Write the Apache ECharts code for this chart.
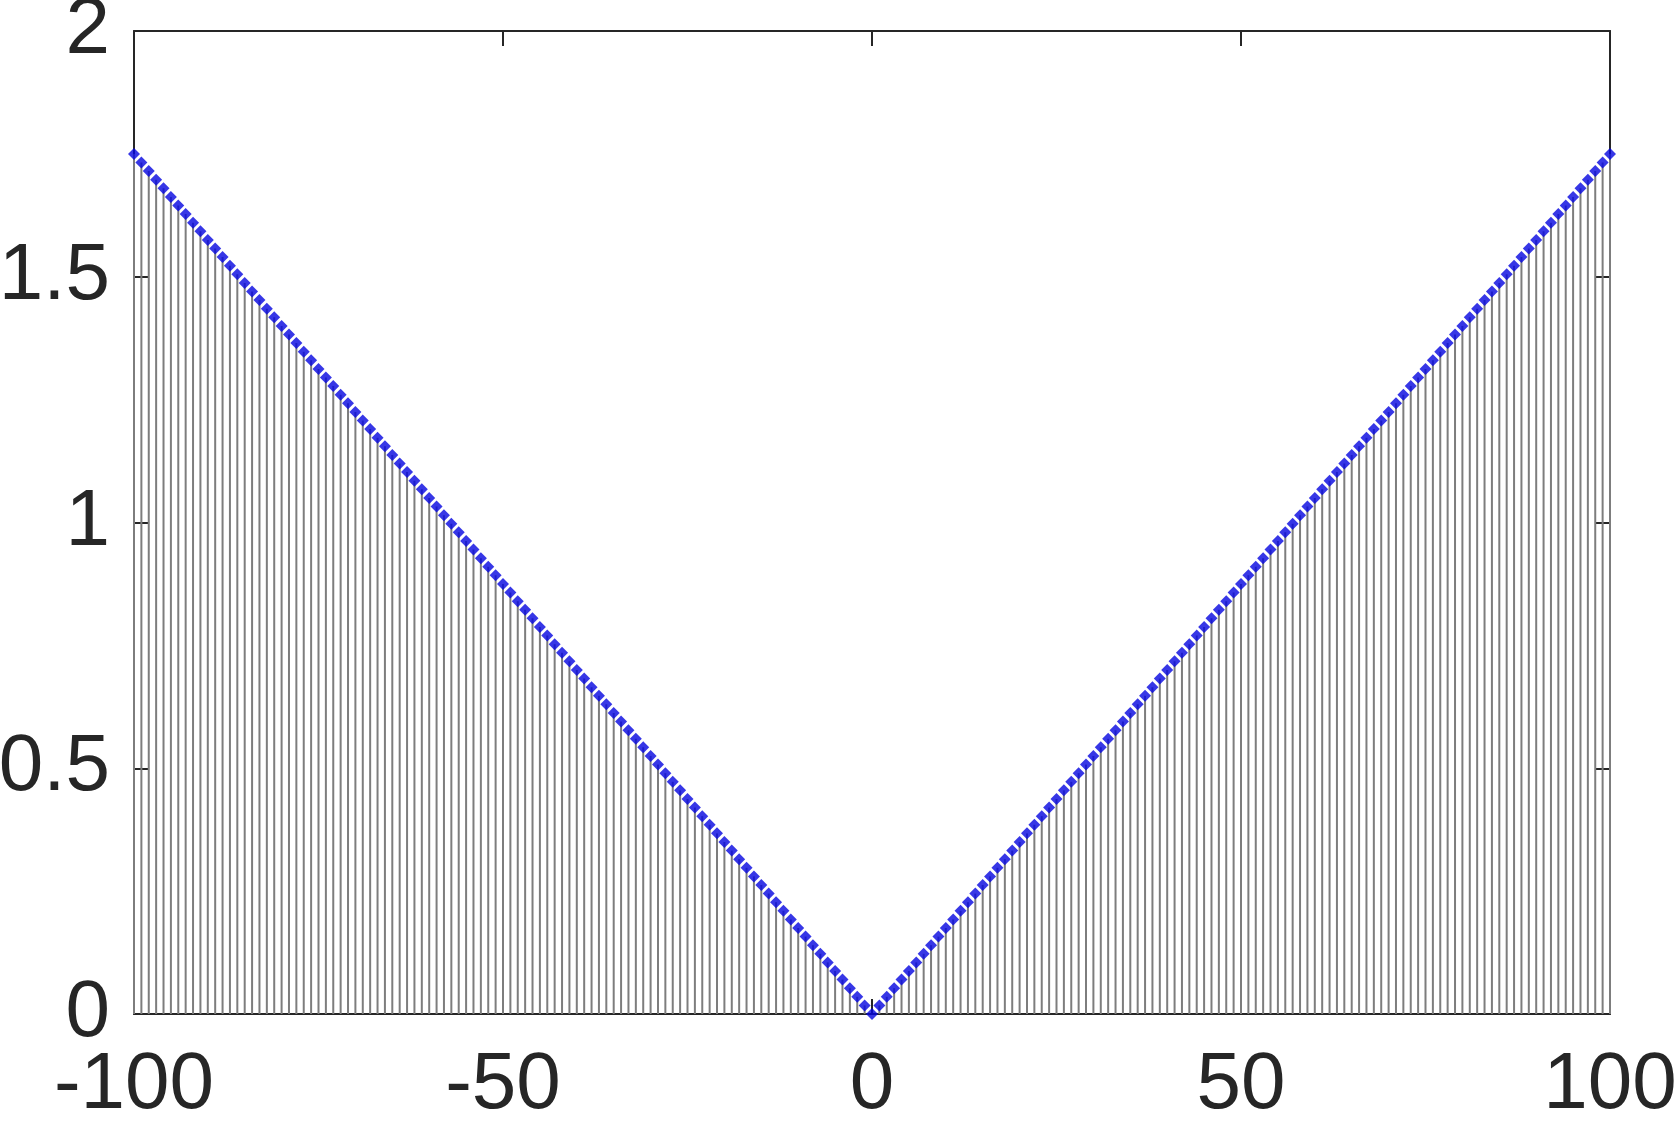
<!DOCTYPE html>
<html>
<head>
<meta charset="utf-8">
<script src="https://cdn.jsdelivr.net/npm/echarts@6/dist/echarts.min.js"></script>
<style>
html, body { margin: 0; padding: 0; background: #fff; }
#main { width: 1680px; height: 1128px; }
</style>
</head>
<body>
<div id="main"></div>
<script>
// stem positions (x) and heights
var xs = [
  -100,-99,-98,-97,-96,-95,-94,-93,-92,-91,-90,-89,-88,-87,-86,-85,-84,-83,-82,-81,
  -80,-79,-78,-77,-76,-75,-74,-73,-72,-71,-70,-69,-68,-67,-66,-65,-64,-63,-62,-61,
  -60,-59,-58,-57,-56,-55,-54,-53,-52,-51,-50,-49,-48,-47,-46,-45,-44,-43,-42,-41,
  -40,-39,-38,-37,-36,-35,-34,-33,-32,-31,-30,-29,-28,-27,-26,-25,-24,-23,-22,-21,
  -20,-19,-18,-17,-16,-15,-14,-13,-12,-11,-10,-9,-8,-7,-6,-5,-4,-3,-2,-1,
  0,
  1,2,3,4,5,6,7,8,9,10,11,12,13,14,15,16,17,18,19,20,
  21,22,23,24,25,26,27,28,29,30,31,32,33,34,35,36,37,38,39,40,
  41,42,43,44,45,46,47,48,49,50,51,52,53,54,55,56,57,58,59,60,
  61,62,63,64,65,66,67,68,69,70,71,72,73,74,75,76,77,78,79,80,
  81,82,83,84,85,86,87,88,89,90,91,92,93,94,95,96,97,98,99,100
];
var ys = [
  1.75,1.7325,1.715,1.6975,1.68,1.6625,1.645,1.6275,1.61,1.5925,
  1.575,1.5575,1.54,1.5225,1.505,1.4875,1.47,1.4525,1.435,1.4175,
  1.4,1.3825,1.365,1.3475,1.33,1.3125,1.295,1.2775,1.26,1.2425,
  1.225,1.2075,1.19,1.1725,1.155,1.1375,1.12,1.1025,1.085,1.0675,
  1.05,1.0325,1.015,0.9975,0.98,0.9625,0.945,0.9275,0.91,0.8925,
  0.875,0.8575,0.84,0.8225,0.805,0.7875,0.77,0.7525,0.735,0.7175,
  0.7,0.6825,0.665,0.6475,0.63,0.6125,0.595,0.5775,0.56,0.5425,
  0.525,0.5075,0.49,0.4725,0.455,0.4375,0.42,0.4025,0.385,0.3675,
  0.35,0.3325,0.315,0.2975,0.28,0.2625,0.245,0.2275,0.21,0.1925,
  0.175,0.1575,0.14,0.1225,0.105,0.0875,0.07,0.0525,0.035,0.0175,
  0,
  0.0175,0.035,0.0525,0.07,0.0875,0.105,0.1225,0.14,0.1575,0.175,
  0.1925,0.21,0.2275,0.245,0.2625,0.28,0.2975,0.315,0.3325,0.35,
  0.3675,0.385,0.4025,0.42,0.4375,0.455,0.4725,0.49,0.5075,0.525,
  0.5425,0.56,0.5775,0.595,0.6125,0.63,0.6475,0.665,0.6825,0.7,
  0.7175,0.735,0.7525,0.77,0.7875,0.805,0.8225,0.84,0.8575,0.875,
  0.8925,0.91,0.9275,0.945,0.9625,0.98,0.9975,1.015,1.0325,1.05,
  1.0675,1.085,1.1025,1.12,1.1375,1.155,1.1725,1.19,1.2075,1.225,
  1.2425,1.26,1.2775,1.295,1.3125,1.33,1.3475,1.365,1.3825,1.4,
  1.4175,1.435,1.4525,1.47,1.4875,1.505,1.5225,1.54,1.5575,1.575,
  1.5925,1.61,1.6275,1.645,1.6625,1.68,1.6975,1.715,1.7325,1.75
];
var xTicks = [-100, -50, 0, 50, 100];
var yTicks = [0, 0.5, 1, 1.5, 2];

var pts = [];
for (var i = 0; i < xs.length; i++) {
  pts.push([xs[i], ys[i]]);
}

var axisColor = '#262626';
var font = '"Liberation Sans", Arial, sans-serif';

function xAxisCfg(pos, showLabel) {
  return {
    type: 'value',
    position: pos,
    min: xTicks[0],
    max: xTicks[xTicks.length - 1],
    interval: 50,
    axisLine: { show: true, onZero: false, lineStyle: { color: axisColor, width: 2 } },
    axisTick: { show: true, inside: true, length: 15, lineStyle: { color: axisColor, width: 2 } },
    axisLabel: {
      show: showLabel, margin: 32, fontSize: 80, color: axisColor, fontFamily: font,
      showMinLabel: true, showMaxLabel: true
    },
    splitLine: { show: false }
  };
}

function yAxisCfg(pos, showLabel) {
  return {
    type: 'value',
    position: pos,
    min: yTicks[0],
    max: yTicks[yTicks.length - 1],
    interval: 0.5,
    axisLine: { show: true, onZero: false, lineStyle: { color: axisColor, width: 2 } },
    axisTick: { show: true, inside: true, length: 15, lineStyle: { color: axisColor, width: 2 } },
    axisLabel: { show: showLabel, margin: 24, fontSize: 80, color: axisColor, fontFamily: font },
    splitLine: { show: false }
  };
}

var myChart = echarts.init(document.getElementById('main'));

var option = {
  animation: false,
  backgroundColor: '#fff',
  grid: { left: 134, right: 70, top: 31, bottom: 114, containLabel: false, outerBoundsMode: 'none' },
  xAxis: [xAxisCfg('bottom', true), xAxisCfg('top', false)],
  yAxis: [yAxisCfg('left', true), yAxisCfg('right', false)],
  series: [
    {
      // stems
      type: 'custom',
      xAxisIndex: 0,
      yAxisIndex: 0,
      z: 1,
      data: pts,
      renderItem: function (params, api) {
        var a = api.coord([api.value(0), 0]);
        var b = api.coord([api.value(0), api.value(1)]);
        return {
          type: 'line',
          shape: { x1: a[0], y1: a[1], x2: b[0], y2: b[1] },
          style: { stroke: '#7d7d7d', lineWidth: 2 }
        };
      }
    },
    {
      // markers
      type: 'scatter',
      xAxisIndex: 0,
      yAxisIndex: 0,
      z: 3,
      symbol: 'diamond',
      symbolSize: 12,
      itemStyle: { color: '#0505e0' },
      data: pts
    }
  ]
};

myChart.setOption(option);
</script>
</body>
</html>
